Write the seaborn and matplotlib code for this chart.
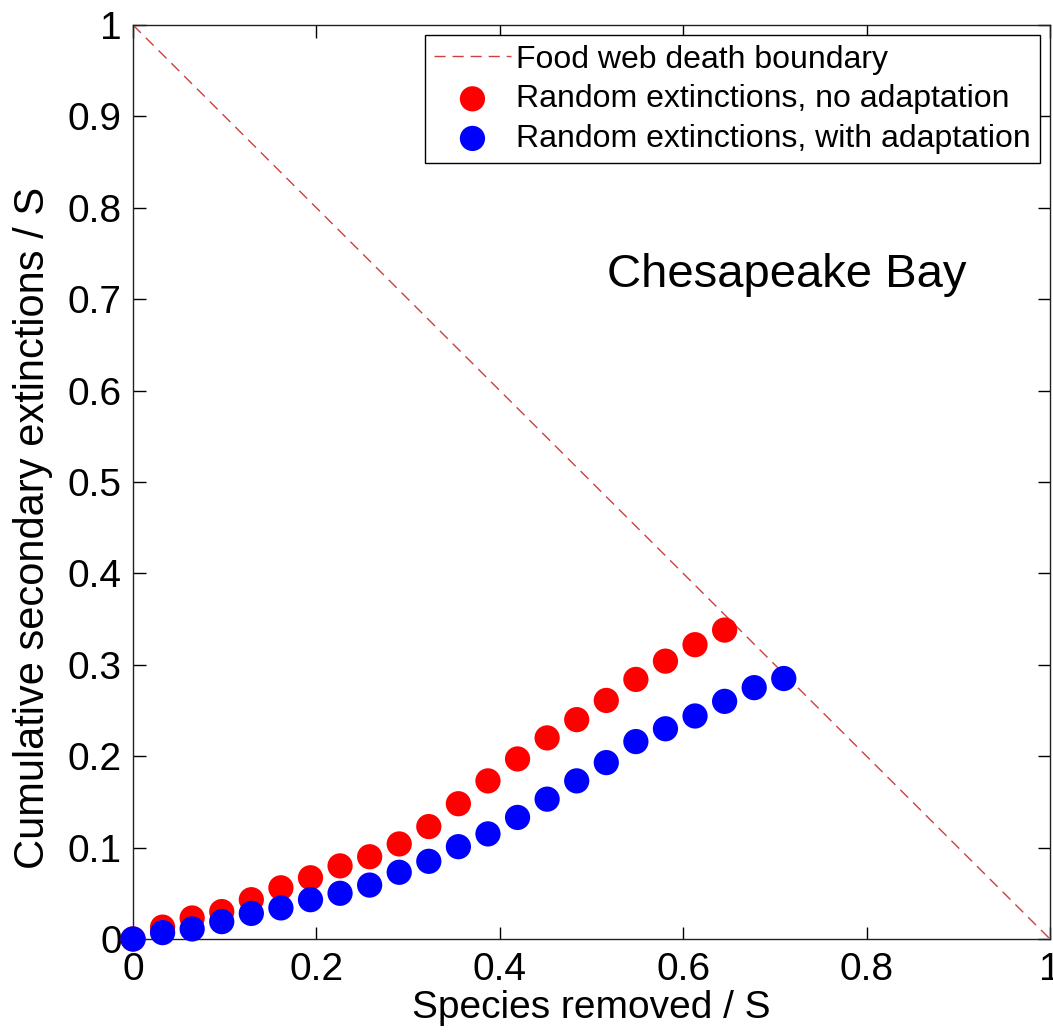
import matplotlib
matplotlib.use("Agg")
import matplotlib.pyplot as plt
import seaborn as sns
import numpy as np
import pandas as pd

# ---- data ----
n_species = 31
red_steps = list(range(0, 21))
red_y = [0, 0.013, 0.023, 0.030, 0.043, 0.056, 0.067, 0.080, 0.090, 0.104,
         0.123, 0.148, 0.173, 0.197, 0.220, 0.240, 0.261, 0.284, 0.304, 0.322, 0.338]
blue_steps = list(range(0, 23))
blue_y = [0, 0.007, 0.011, 0.019, 0.028, 0.034, 0.043, 0.050, 0.059, 0.073,
          0.085, 0.101, 0.115, 0.133, 0.153, 0.173, 0.193, 0.216, 0.230, 0.244,
          0.260, 0.275, 0.285]
boundary_x = [0, 1]
boundary_y = [1, 0]
x_ticks = [0, 0.2, 0.4, 0.6, 0.8, 1]
x_tick_labels = ["0", "0.2", "0.4", "0.6", "0.8", "1"]
y_ticks = [0, 0.1, 0.2, 0.3, 0.4, 0.5, 0.6, 0.7, 0.8, 0.9, 1]
y_tick_labels = ["0", "0.1", "0.2", "0.3", "0.4", "0.5", "0.6", "0.7", "0.8", "0.9", "1"]
label_boundary = "Food web death boundary"
label_red = "Random extinctions, no adaptation"
label_blue = "Random extinctions, with adaptation"
title_text = "Chesapeake Bay"

sns.set_theme(style="white")
plt.rcParams['font.family'] = ['Liberation Sans', 'DejaVu Sans']
plt.rcParams['text.color'] = 'black'
plt.rcParams['axes.labelcolor'] = 'black'
plt.rcParams['xtick.color'] = 'black'
plt.rcParams['ytick.color'] = 'black'

fig = plt.figure(figsize=(10.53, 10.34), dpi=100)
ax = fig.add_axes([133/1053, (1034-939)/1034, 917/1053, 914/1034])

df_b = pd.DataFrame({"x": boundary_x, "y": boundary_y})
sns.lineplot(data=df_b, x="x", y="y", ax=ax, color="#cc4040", linewidth=1.0,
             linestyle=(0, (8, 5)), label=label_boundary)

df_r = pd.DataFrame({"x": np.array(red_steps) / n_species, "y": red_y})
df_bl = pd.DataFrame({"x": np.array(blue_steps) / n_species, "y": blue_y})
sns.scatterplot(data=df_r, x="x", y="y", ax=ax, color="#ff0000", s=330,
                edgecolor="none", label=label_red, clip_on=False, zorder=3)
sns.scatterplot(data=df_bl, x="x", y="y", ax=ax, color="#0000ff", s=330,
                edgecolor="none", label=label_blue, clip_on=False, zorder=4)

ax.set_xlim(0, 1)
ax.set_ylim(0, 1)
ax.set_xticks(x_ticks)
ax.set_xticklabels(x_tick_labels)
ax.set_yticks(y_ticks)
ax.set_yticklabels(y_tick_labels)
ax.tick_params(axis="both", direction="in", length=9, width=1, colors="black",
               labelsize=28, top=True, right=True, bottom=True, left=True)
ax.tick_params(axis="x", pad=9)
ax.tick_params(axis="y", pad=8)
for sp in ax.spines.values():
    sp.set_visible(True)
    sp.set_color("#222222")
    sp.set_linewidth(1.0)

ax.set_xlabel("Species removed / S", fontsize=28, labelpad=2, color="black")
ax.set_ylabel("Cumulative secondary extinctions / S", fontsize=30, color="black")
ax.yaxis.set_label_coords(-0.087, 0.45)

ax.text(0.517, 0.726, title_text, transform=ax.transAxes, fontsize=34,
        ha="left", va="center", color="black")

leg = ax.legend(loc="upper right", bbox_to_anchor=(0.989, 0.989), borderaxespad=0,
                fontsize=23, frameon=True, fancybox=False, framealpha=1,
                edgecolor="black", handlelength=2.4, handletextpad=0.15,
                borderpad=0.3, labelspacing=0.3, markerscale=1.0)
leg.get_frame().set_linewidth(1.0)
for t in leg.get_texts():
    t.set_color("black")

fig.savefig("out.png", dpi=100)
